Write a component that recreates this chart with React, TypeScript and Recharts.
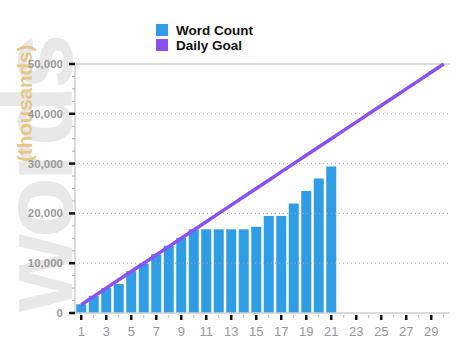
import { ComposedChart, Bar, Line, XAxis, YAxis, ReferenceLine } from "recharts";

const days = [
  1, 2, 3, 4, 5, 6, 7, 8, 9, 10, 11, 12, 13, 14, 15,
  16, 17, 18, 19, 20, 21, 22, 23, 24, 25, 26, 27, 28, 29, 30,
];

// words written so far, day 1..21
const wordCount = [
  1750, 3450, 5000, 5800, 8400, 9900, 11800, 13500, 15100, 16800, 16800,
  16800, 16800, 16800, 17300, 19500, 19500, 22000, 24500, 27000, 29400,
];

const dailyGoal = [
  1667, 3333, 5000, 6667, 8333, 10000, 11667, 13333, 15000, 16667,
  18333, 20000, 21667, 23333, 25000, 26667, 28333, 30000, 31667, 33333,
  35000, 36667, 38333, 40000, 41667, 43333, 45000, 46667, 48333, 50000,
];

const yTicks = [
  0, 2500, 5000, 7500, 10000, 12500, 15000, 17500, 20000, 22500, 25000,
  27500, 30000, 32500, 35000, 37500, 40000, 42500, 45000, 47500, 50000,
];
const gridValues = [10000, 20000, 30000, 40000];

const data = days.map((d, i) => ({
  day: d,
  words: wordCount[i] ?? null,
  goal: dailyGoal[i],
}));

const FONT = "Arial, 'Liberation Sans', sans-serif";
const BLUE = "#2f9ce6";
const PURPLE = "#8b50f2";

function YTick(props: any) {
  const { x, y, payload } = props;
  const v = payload.value as number;
  const major = v % 10000 === 0;
  return (
    <g>
      <line
        x1={x - (major ? 6 : 3)}
        x2={x}
        y1={y}
        y2={y}
        stroke={major ? "#111" : "#aaa"}
        strokeWidth={major ? 2.5 : 1}
      />
      {major && (
        <text
          x={x - 12}
          y={y}
          dy={4}
          textAnchor="end"
          fontFamily={FONT}
          fontSize={11.5}
          fontWeight="bold"
          fill="#999"
        >
          {v.toLocaleString("en-US")}
        </text>
      )}
    </g>
  );
}

function XTick(props: any) {
  const { x, y, payload } = props;
  const d = payload.value as number;
  const major = d % 2 === 1;
  return (
    <g>
      <line
        x1={x}
        x2={x}
        y1={y + 2}
        y2={y + (major ? 7 : 5)}
        stroke={major ? "#111" : "#bbb"}
        strokeWidth={major ? 2.5 : 1}
      />
      {major && (
        <text
          x={x}
          y={y + 23}
          textAnchor="middle"
          fontFamily={FONT}
          fontSize={13}
          fill="#999"
        >
          {d}
        </text>
      )}
    </g>
  );
}

function LegendBox() {
  const row = (color: string, label: string) => (
    <div style={{ display: "flex", alignItems: "center", height: 14, marginBottom: 1 }}>
      <div style={{ width: 12, height: 12.5, background: color, marginRight: 8 }} />
      <span style={{ fontFamily: FONT, fontSize: 13.5, fontWeight: "bold", color: "#111" }}>
        {label}
      </span>
    </div>
  );
  return (
    <div style={{ position: "absolute", left: 156, top: 23 }}>
      {row(BLUE, "Word Count")}
      {row(PURPLE, "Daily Goal")}
    </div>
  );
}

export default function App() {
  return (
    <div style={{ position: "absolute", left: 0, top: 0, width: 467, height: 352, background: "#fff" }}>
      <svg width={467} height={352} style={{ position: "absolute", left: 0, top: 0 }}>
        <text
          x={-312}
          y={72}
          transform="rotate(-90)"
          fontFamily={FONT}
          fontWeight="bold"
          fontSize={100}
          letterSpacing={-4}
          fill="#e8e8e8"
        >
          words
        </text>
        <text
          x={-162}
          y={32}
          transform="rotate(-90)"
          fontFamily={FONT}
          fontWeight="bold"
          fontSize={20.5}
          fill="#e5c278"
          fillOpacity={0.9}
        >
          (thousands)
        </text>
      </svg>
      <div style={{ position: "absolute", left: 0, top: 0 }}>
        <ComposedChart
          width={467}
          height={352}
          data={data}
          margin={{ top: 64, right: 17, bottom: 9, left: 0 }}
          barCategoryGap="10%"
        >
          {gridValues.map((v) => (
            <ReferenceLine key={v} y={v} stroke="#aaa" strokeDasharray="1 3" />
          ))}
          <ReferenceLine y={50000} stroke="#cfcfcf" strokeWidth={1.5} />
          <XAxis
            dataKey="day"
            height={30}
            interval={0}
            tickSize={0}
            tickMargin={0}
            tickLine={false}
            axisLine={{ stroke: "#cfcfcf", strokeWidth: 1.5 }}
            tick={<XTick />}
          />
          <YAxis
            width={75}
            domain={[0, 50000]}
            ticks={yTicks}
            interval={0}
            tickSize={0}
            tickMargin={0}
            tickLine={false}
            axisLine={{ stroke: "#cfcfcf", strokeWidth: 1.5 }}
            tick={<YTick />}
          />
          <YAxis
            yAxisId="right"
            orientation="right"
            width={0}
            tick={false}
            tickLine={false}
            axisLine={{ stroke: "#cfcfcf", strokeWidth: 1.5 }}
          />
          <Bar dataKey="words" fill={BLUE} isAnimationActive={false} />
          <Line
            dataKey="goal"
            type="linear"
            stroke={PURPLE}
            strokeWidth={3.5}
            dot={false}
            activeDot={false}
            isAnimationActive={false}
          />
        </ComposedChart>
      </div>
      <LegendBox />
    </div>
  );
}
